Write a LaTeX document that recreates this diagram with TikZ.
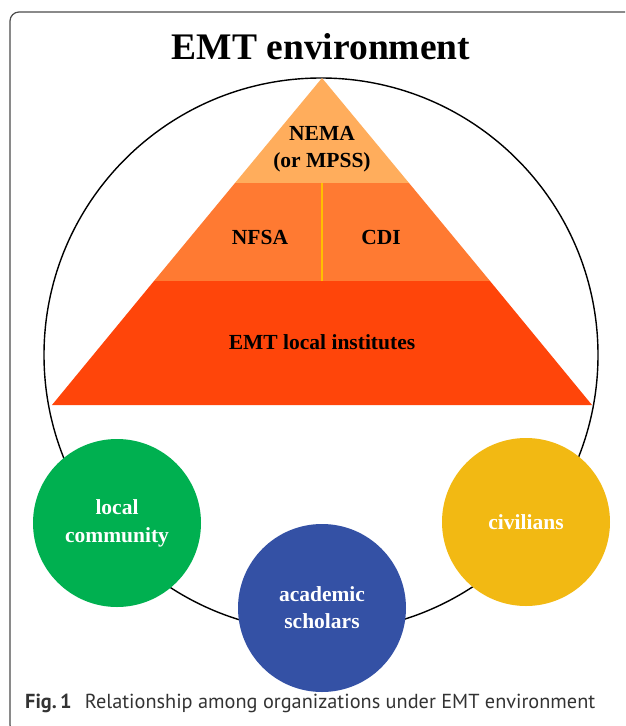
\documentclass[tikz,border=0pt]{standalone}
\usepackage{fontspec}
\setmainfont{Liberation Serif}
\newfontfamily\capfont{PT Sans}
\usetikzlibrary{positioning}

\definecolor{tiertop}{HTML}{FFAD5C}
\definecolor{tiermid}{HTML}{FF7A32}
\definecolor{tierbase}{HTML}{FF450A}
\definecolor{tiersplit}{HTML}{FFC000}
\definecolor{commgreen}{HTML}{00B050}
\definecolor{scholblue}{HTML}{3451A5}
\definecolor{civyellow}{HTML}{F2B913}
\definecolor{capgray}{HTML}{333333}

\begin{document}
\begin{tikzpicture}[x=1pt,y=-1pt]
		\tikzstyle{tiertext} = [font=\fontsize{21.5}{27}\selectfont\bfseries, align=center, text=black, inner sep=0pt]
		\tikzstyle{member} = [circle, minimum size=168pt, inner sep=0pt, align=center, text=white, font=\fontsize{21.5}{27}\selectfont\bfseries]
		
		\useasboundingbox (0,0) rectangle (625,726);
		\clip (0,0) rectangle (625,726);
		
		\draw [line width=1.2pt, black!70, rounded corners=9pt] (640,12) -- (10,12) -- (10,734) -- (640,734);
		
		\node (title) at (321,47) {\fontsize{37.5}{40}\selectfont\bfseries EMT environment};
		
		\node (env) [circle, draw=black, line width=1.4pt, minimum size=554pt, inner sep=0pt] at (321,355) {};
		
		\fill [tiertop] (322,78) -- (409,183) -- (235,183) -- cycle;
		\fill [tiermid] (235,183) -- (409,183) -- (490,281) -- (154,281) -- cycle;
		\fill [tierbase] (154,281) -- (490,281) -- (592,405) -- (52,405) -- cycle;
		\draw [line width=1.2pt, tiersplit] (322,183) -- (322,281);
		
		\node (nema) [tiertext] at (322,149) {NEMA\\(or MPSS)};
		\node (nfsa) [tiertext] at (260,237) {NFSA};
		\node (cdi) [tiertext] at (381,237) {CDI};
		\node (local) [tiertext] at (322,342) {EMT local institutes};
		
		\node (community) [member, fill=commgreen] at (117,523) {\raisebox{-6pt}{\shortstack{local\\[10pt]community}}};
		\node (scholars) [member, fill=scholblue] at (322,608) {academic\\scholars};
		\node (civilians) [member, fill=civyellow] at (526,522) {civilians};
		
		\node (caption) [anchor=west, text=capgray, inner sep=0pt] at (25,703) {\capfont\fontsize{20.3}{24}\selectfont\textbf{Fig.\,1}\hspace{0.65em}Relationship among organizations under EMT environment};
\end{tikzpicture}
\end{document}
